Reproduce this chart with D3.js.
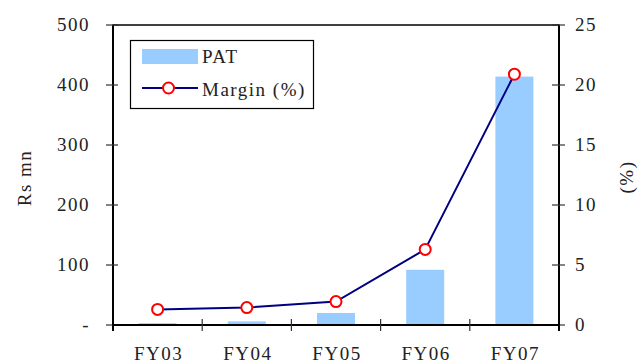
<!DOCTYPE html>
<html>
<head>
<meta charset="utf-8">
<script src="https://cdn.jsdelivr.net/npm/d3@7"></script>
<style>
  html, body { margin: 0; padding: 0; background: #fff; }
</style>
</head>
<body>
<svg id="chart" width="639" height="364"></svg>
<script>
// Profit after tax (Rs mn) and margin (%) by fiscal year
const categories = ["FY03", "FY04", "FY05", "FY06", "FY07"];
const patValues = [3, 6, 20, 92, 414];
const marginValues = [1.3, 1.45, 1.95, 6.3, 20.9];
const leftTicks = [0, 100, 200, 300, 400, 500];
const leftTickLabels = ["-", "100", "200", "300", "400", "500"];
const rightTicks = [0, 5, 10, 15, 20, 25];

const svg = d3.select("#chart");
const FONT = "Liberation Serif";
const m = { left: 113, right: 559, top: 25, bottom: 325 };

const xc = d3.scaleBand().domain(categories).range([m.left, m.right]);
const yL = d3.scaleLinear().domain([0, 500]).range([m.bottom, m.top]);
const yR = d3.scaleLinear().domain([0, 25]).range([m.bottom, m.top]);

const fs = 19, ls = "1.5px";
function label(g) {
  return g.append("text").attr("font-family", FONT).attr("font-size", fs)
    .attr("fill", "#222").style("letter-spacing", ls);
}

// bars
svg.append("g").selectAll("rect").data(patValues).join("rect")
  .attr("x", (d, i) => xc(categories[i]) + xc.bandwidth() / 2 - 19)
  .attr("width", 38)
  .attr("y", d => yL(d))
  .attr("height", d => yL(0) - yL(d))
  .attr("fill", "#99ccff");

// frame top
svg.append("line").attr("x1", m.left).attr("x2", m.right).attr("y1", m.top).attr("y2", m.top)
  .attr("stroke", "#000").attr("stroke-width", 1.5);

// left axis
const gL = svg.append("g");
gL.append("line").attr("x1", m.left).attr("x2", m.left).attr("y1", m.top - 0.5).attr("y2", m.bottom + 6)
  .attr("stroke", "#000").attr("stroke-width", 2);
leftTicks.forEach((t, i) => {
  gL.append("line").attr("x1", m.left - 7).attr("x2", m.left + 5).attr("y1", yL(t)).attr("y2", yL(t))
    .attr("stroke", "#333").attr("stroke-width", 1.2);
  label(gL).attr("x", 90).attr("y", yL(t) + 6).attr("text-anchor", "end").text(leftTickLabels[i]);
});

// right axis
const gR = svg.append("g");
gR.append("line").attr("x1", m.right).attr("x2", m.right).attr("y1", m.top - 0.5).attr("y2", m.bottom + 6)
  .attr("stroke", "#000").attr("stroke-width", 2);
rightTicks.forEach(t => {
  gR.append("line").attr("x1", m.right - 7).attr("x2", m.right + 6).attr("y1", yR(t)).attr("y2", yR(t))
    .attr("stroke", "#333").attr("stroke-width", 1.2);
  label(gR).attr("x", 575).attr("y", yR(t) + 6).attr("text-anchor", "start").text(t);
});

// bottom axis
const gB = svg.append("g");
gB.append("line").attr("x1", m.left - 1).attr("x2", m.right + 1).attr("y1", m.bottom).attr("y2", m.bottom)
  .attr("stroke", "#000").attr("stroke-width", 2);
categories.slice(1).forEach(c => {
  gB.append("line").attr("x1", xc(c)).attr("x2", xc(c)).attr("y1", m.bottom - 6).attr("y2", m.bottom + 6)
    .attr("stroke", "#333").attr("stroke-width", 1.2);
});
categories.forEach(c => {
  label(gB).attr("x", xc(c) + xc.bandwidth() / 2 + 1).attr("y", 360).attr("text-anchor", "middle").text(c);
});

// margin line and markers
const cx = (d, i) => xc(categories[i]) + xc.bandwidth() / 2;
const line = d3.line().x(cx).y(d => yR(d));
svg.append("path").datum(marginValues).attr("d", line)
  .attr("fill", "none").attr("stroke", "#000080").attr("stroke-width", 2);
svg.append("g").selectAll("circle").data(marginValues).join("circle")
  .attr("cx", cx).attr("cy", d => yR(d)).attr("r", 5.5)
  .attr("fill", "#fff").attr("stroke", "#ff0000").attr("stroke-width", 2);

// axis titles
label(svg).attr("transform", "translate(31,178) rotate(-90)").attr("text-anchor", "middle").text("Rs mn");
label(svg).attr("transform", "translate(633,177) rotate(-90)").attr("text-anchor", "middle").text("(%)");

// legend
const lg = svg.append("g");
lg.append("rect").attr("x", 130.5).attr("y", 40.5).attr("width", 183).attr("height", 68)
  .attr("fill", "#fff").attr("stroke", "#000").attr("stroke-width", 1.2);
lg.append("rect").attr("x", 142).attr("y", 49).attr("width", 56).attr("height", 15).attr("fill", "#99ccff");
label(lg).attr("x", 202).attr("y", 63).text("PAT");
lg.append("line").attr("x1", 142).attr("x2", 198).attr("y1", 88).attr("y2", 88)
  .attr("stroke", "#000080").attr("stroke-width", 2);
lg.append("circle").attr("cx", 168.5).attr("cy", 88).attr("r", 5.5)
  .attr("fill", "#fff").attr("stroke", "#ff0000").attr("stroke-width", 2);
label(lg).attr("x", 202).attr("y", 96).text("Margin (%)");
</script>
</body>
</html>
